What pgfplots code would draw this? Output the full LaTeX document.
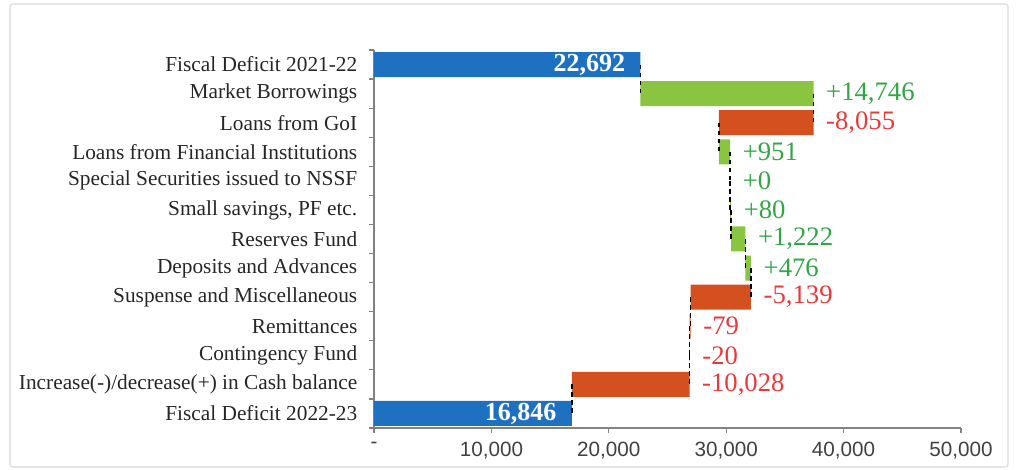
\documentclass[border=0pt]{standalone}
\usepackage{pgfplots}
\pgfplotsset{compat=1.18}
\usepackage{fontspec}
\setmainfont{Liberation Serif}
\newfontfamily\ticksans{Liberation Sans}

\definecolor{totblue}{RGB}{30,112,192}
\definecolor{upgreen}{RGB}{137,197,64}
\definecolor{downred}{RGB}{212,80,30}
\definecolor{txtgreen}{RGB}{50,165,70}
\definecolor{txtred}{RGB}{232,58,58}
\definecolor{axgray}{RGB}{130,130,130}

\pgfplotsset{
  waterfall/.style={scale only axis, width=440.25pt, height=283.5pt,
    xmin=0, xmax=50000, ymin=-0.5, ymax=12.5},
}

\begin{document}
\begin{tikzpicture}
\begin{axis}[waterfall, name=ax,
  xbar stacked, bar width=0.86,
  axis x line*=bottom, axis y line*=left,
  axis line style={draw=axgray, line width=0.9pt},
  tick style={draw=axgray, line width=0.9pt},
  tick align=outside, major tick length=0pt, minor tick length=4pt,
  scaled x ticks=false,
  xtick={0,10000,20000,30000,40000,50000},
  xticklabels={-,{10,000},{20,000},{30,000},{40,000},{50,000}},
  minor xtick={0,10000,20000,30000,40000,50000},
  xticklabel style={font=\ticksans\fontsize{15.5}{15.5}\selectfont, text=black!75, yshift=-7pt},
  ytick={0,...,12},
  minor ytick={-0.5,0.5,...,12.5},
  yticklabels={
    {Fiscal Deficit 2022-23},
    {Increase(-)/decrease(+) in Cash balance},
    {Contingency Fund},
    {Remittances},
    {Suspense and Miscellaneous},
    {Deposits and Advances},
    {Reserves Fund},
    {Small savings, PF etc.},
    {Special Securities issued to NSSF},
    {Loans from Financial Institutions},
    {Loans from GoI},
    {Market Borrowings},
    {Fiscal Deficit 2021-22}},
  yticklabel style={font=\fontsize{16}{17}\selectfont, text=black!85, xshift=-9pt},
]
% invisible base of each floating bar
\addplot[draw=none, fill=none, forget plot] coordinates {
  (0,0) (16846,1) (26874,2) (26894,3) (26973,4) (31636,5) (30414,6)
  (30334,7) (30334,8) (29383,9) (29383,10) (22692,11) (0,12)};
% totals
\addplot[draw=none, fill=totblue] coordinates {
  (16846,0) (0,1) (0,2) (0,3) (0,4) (0,5) (0,6)
  (0,7) (0,8) (0,9) (0,10) (0,11) (22692,12)};
% increases
\addplot[draw=none, fill=upgreen] coordinates {
  (0,0) (0,1) (0,2) (0,3) (0,4) (476,5) (1222,6)
  (80,7) (0,8) (951,9) (0,10) (14746,11) (0,12)};
% decreases
\addplot[draw=none, fill=downred] coordinates {
  (0,0) (10028,1) (20,2) (79,3) (5139,4) (0,5) (0,6)
  (0,7) (0,8) (0,9) (8055,10) (0,11) (0,12)};
\end{axis}

\begin{axis}[waterfall, at={(ax.south west)}, anchor=south west, hide axis, clip=false]
% connectors
\addplot[black, line width=1.1pt, dash pattern=on 3.5pt off 2.5pt, unbounded coords=jump] coordinates {
  (22692,12) (22692,11) (nan,nan)
  (37438,11) (37438,10) (nan,nan)
  (29383,10) (29383,9) (nan,nan)
  (30334,9) (30334,8) (nan,nan)
  (30334,8) (30334,7) (nan,nan)
  (30414,7) (30414,6) (nan,nan)
  (31636,6) (31636,5) (nan,nan)
  (32112,5) (32112,4) (nan,nan)
  (26973,4) (26973,3) (nan,nan)
  (26894,3) (26894,2) (nan,nan)
  (26874,2) (26874,1) (nan,nan)
  (16846,1) (16846,0)};
% labels of increases
\addplot[only marks, mark=none,
  point meta=explicit symbolic, nodes near coords={\pgfplotspointmeta},
  nodes near coords style={anchor=west, xshift=6pt, text=txtgreen, font=\fontsize{20}{20}\selectfont}]
  coordinates {(37438,11) [+14,746] (30334,9) [+951] (30334,8) [+0]
  (30414,7) [+80] (31636,6) [+1,222] (32112,5) [+476]};
% labels of decreases
\addplot[only marks, mark=none,
  point meta=explicit symbolic, nodes near coords={\pgfplotspointmeta},
  nodes near coords style={anchor=west, xshift=6pt, text=txtred, font=\fontsize{20}{20}\selectfont}]
  coordinates {(37438,10) [-8,055] (32112,4) [-5,139] (26973,3) [-79]
  (26894,2) [-20] (26874,1) [-10,028]};
% labels of totals
\addplot[only marks, mark=none,
  point meta=explicit symbolic, nodes near coords={\pgfplotspointmeta},
  nodes near coords style={anchor=east, xshift=-8pt, text=white, font=\bfseries\fontsize{19.5}{19.5}\selectfont}]
  coordinates {(22692,12) [22,692] (16846,0) [16,846]};
\end{axis}

\draw[gray!30, line width=0.8pt, rounded corners=2pt]
  ([shift={(-273pt,-29.25pt)}]ax.south west) rectangle ([shift={(475.5pt,318pt)}]ax.south west);
\path ([shift={(-280.5pt,-31.5pt)}]ax.south west) rectangle ([shift={(481.5pt,321pt)}]ax.south west);
\end{tikzpicture}
\end{document}
